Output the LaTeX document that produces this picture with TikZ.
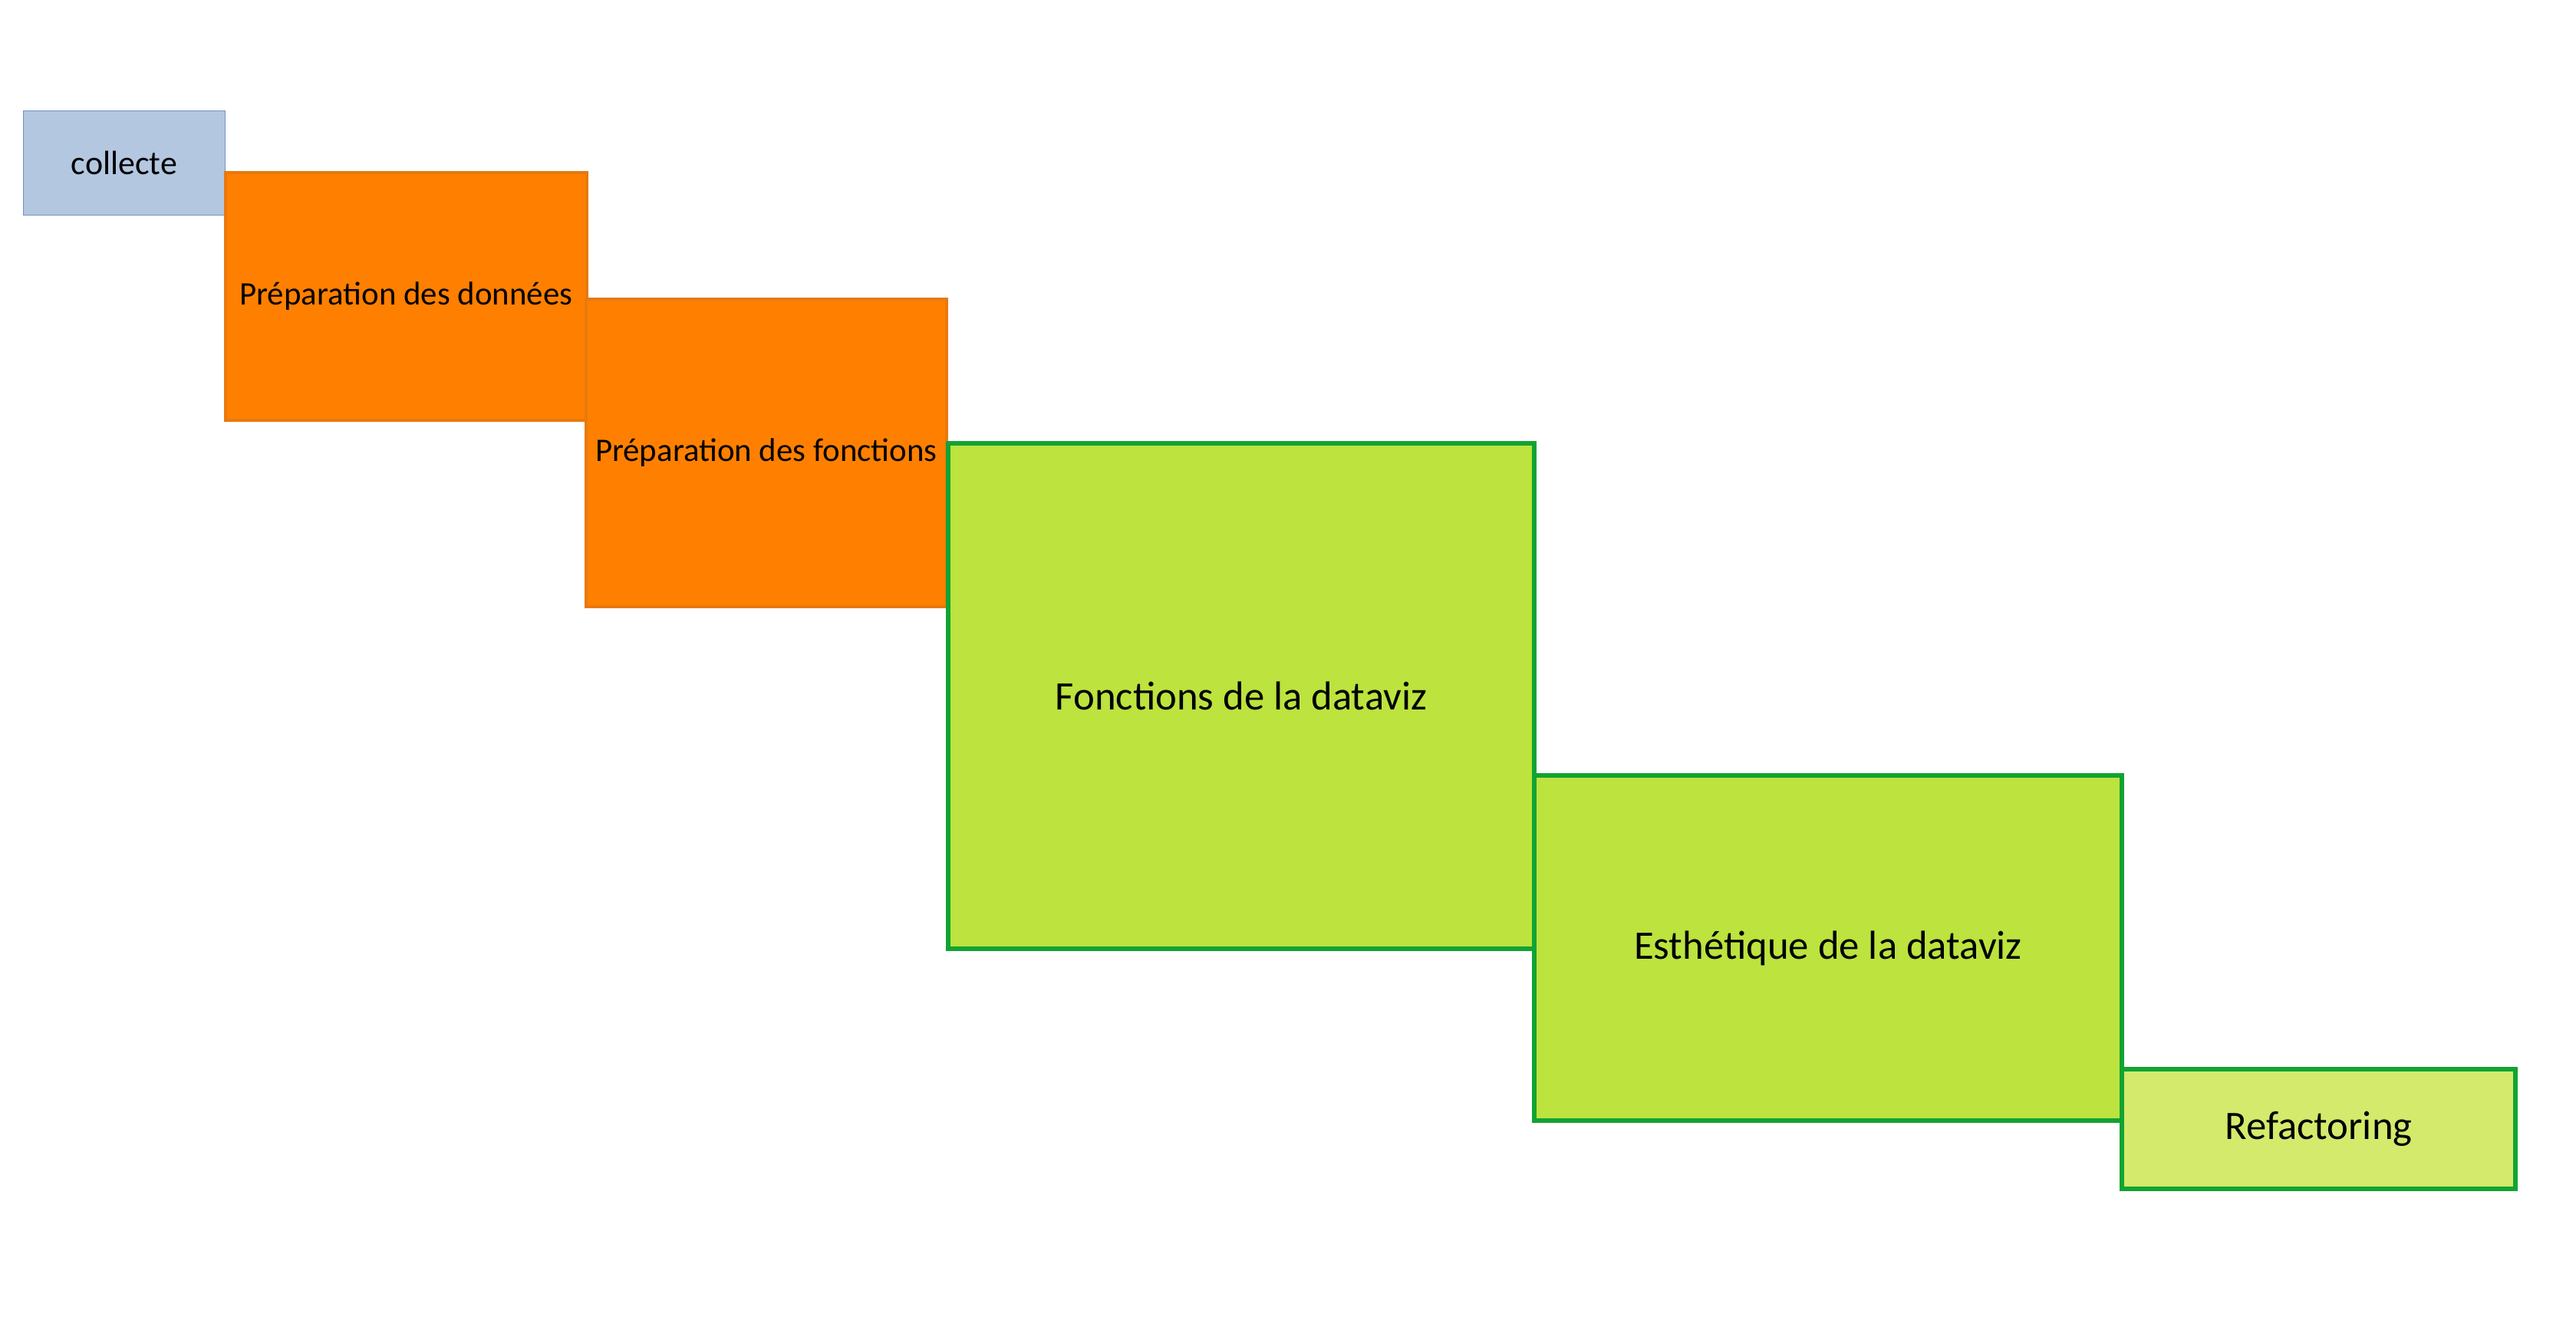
\documentclass[tikz,border=0pt]{standalone}
\usepackage{fontspec}
\setmainfont{Carlito}
\definecolor{bleuCollecte}{HTML}{B4C7E0}
\definecolor{bordCollecte}{HTML}{7393C4}
\definecolor{orangePrep}{HTML}{FF8000}
\definecolor{bordPrep}{HTML}{E8790E}
\definecolor{vertViz}{HTML}{BCE33E}
\definecolor{vertClair}{HTML}{D4EA6C}
\definecolor{bordViz}{HTML}{12A333}
\tikzset{
  etape/.style={rectangle, anchor=north west, inner sep=0pt, align=center, text=black},
  collecte/.style={etape, fill=bleuCollecte, draw=bordCollecte, line width=0.3pt, font=\fontsize{12.5pt}{14pt}\selectfont},
  prep/.style={etape, fill=orangePrep, draw=bordPrep, line width=1pt, font=\fontsize{12.2pt}{14pt}\selectfont},
  viz/.style={etape, fill=vertViz, draw=bordViz, line width=1.7pt, font=\fontsize{15pt}{17pt}\selectfont},
}
\begin{document}
\begin{tikzpicture}
  \useasboundingbox (0,0) rectangle (33.58,-17.21);
  \node[collecte, minimum width=2.63cm, minimum height=1.36cm] (collecte) at (0.30,-1.44) {collecte};
  \node[prep, minimum width=4.71cm, minimum height=3.23cm] (donnees) at (2.92,-2.23) {Préparation des données};
  \node[prep, minimum width=4.70cm, minimum height=4.01cm] (fonctions) at (7.62,-3.88) {Préparation des fonctions};
  \node[viz, minimum width=7.64cm, minimum height=6.59cm] (dataviz) at (12.33,-5.75) {Fonctions de la dataviz};
  \node[viz, minimum width=7.66cm, minimum height=4.50cm] (esthetique) at (19.97,-10.08) {Esthétique de la dataviz};
  \node[viz, fill=vertClair, minimum width=5.13cm, minimum height=1.56cm] (refactoring) at (27.63,-13.91) {Refactoring};
\end{tikzpicture}
\end{document}
